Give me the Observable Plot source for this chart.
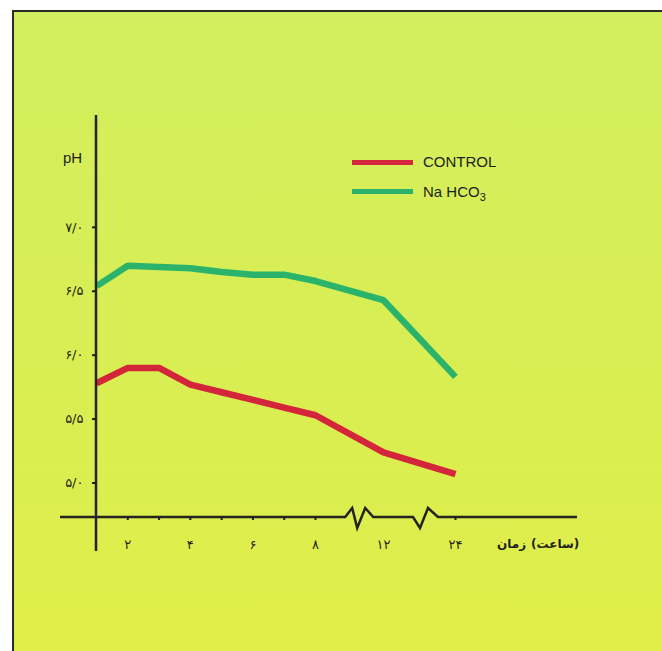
<!DOCTYPE html>
<html>
<head>
<meta charset="utf-8">
<script src="https://cdn.jsdelivr.net/npm/d3@7"></script>
<script src="https://cdn.jsdelivr.net/npm/@observablehq/plot@0.6"></script>
<style>
  html, body { margin: 0; padding: 0; background: #ffffff; }
  #page { position: relative; width: 662px; height: 651px; overflow: hidden; background: #ffffff; }
  #panel { position: absolute; left: 12px; top: 10px; right: -6px; bottom: -6px;
    border-left: 2.5px solid #2b2b26; border-top: 2.5px solid #2b2b26;
    background: linear-gradient(180deg, #d3ee5e 0%, #d8ee54 50%, #e0ee49 100%); }
  #chart { position: absolute; left: 0; top: 0; }
  .legend-line { position: absolute; left: 352px; width: 61px; height: 5px; }
  .legend-text { position: absolute; left: 423px; font: 15px "Liberation Sans", Arial, sans-serif;
    color: #1d1d1b; line-height: 15px; white-space: nowrap; }
  .legend-text sub { font-size: 11px; vertical-align: -4px; line-height: 0; }
  #xlabel { position: absolute; left: 497px; top: 537px; display: flex; flex-direction: row;
    gap: 5px; direction: ltr; font: bold 12px "DejaVu Sans", sans-serif; color: #1d1d1b; white-space: nowrap; }
  #xlabel span { display: block; direction: rtl; }
</style>
</head>
<body>
<div id="page">
  <div id="panel"></div>
  <div id="chart"></div>
  <div class="legend-line" id="leg0" style="top:159.5px"></div>
  <div class="legend-text" id="legt0" style="top:154px"></div>
  <div class="legend-line" id="leg1" style="top:188.5px"></div>
  <div class="legend-text" id="legt1" style="top:184px"></div>
  <div id="xlabel"></div>
</div>
<script>
// ---- data ----
const hours = [1, 2, 3, 4, 5, 6, 7, 8, 12, 24];
const controlPH = [5.78, 5.90, 5.90, 5.77, 5.71, 5.65, 5.59, 5.53, 5.24, 5.07];
const nahco3PH  = [6.54, 6.70, 6.69, 6.68, 6.65, 6.63, 6.63, 6.58, 6.43, 5.83];
const seriesNames = ["CONTROL", "Na HCO3"];
const seriesColors = ["#d4263b", "#2bb36c"];
const yTicks = [5.0, 5.5, 6.0, 6.5, 7.0];
const yTickLabels = ["۵/۰", "۵/۵", "۶/۰", "۶/۵", "۷/۰"];
const xTicks = [2, 4, 6, 8, 12, 24];
const xTickLabels = ["۲", "۴", "۶", "۸", "۱۲", "۲۴"];
const xMinorTicks = [2, 3, 4, 5, 6, 7, 8, 24];
const axisBreaks = [10.6, 19];
const yLabel = "pH";
const xLabelParts = ["زمان", "(ساعت)"];

const table = hours.flatMap((h, i) => [
  {hour: h, pH: controlPH[i], series: seriesNames[0]},
  {hour: h, pH: nahco3PH[i], series: seriesNames[1]}
]);

// axis lines (vertical pH axis and broken time axis)
function axisLines(index, scales, values, dims) {
  const x = scales.x;
  const yb = dims.height - dims.marginBottom;
  const xa = x(hours[0]);
  const g = d3.create("svg:g")
    .attr("fill", "none").attr("stroke", "#23231f")
    .attr("stroke-width", 2.5).attr("stroke-linejoin", "miter");
  g.append("line").attr("x1", xa).attr("x2", xa)
    .attr("y1", dims.marginTop).attr("y2", yb + 34);
  const c1 = x(axisBreaks[0]), c2 = x(axisBreaks[1]);
  const pts = [
    [xa - 36, yb],
    [c1 - 14, yb], [c1 - 7, yb - 9], [c1 - 2, yb + 11], [c1 + 6, yb - 9], [c1 + 14, yb],
    [c2 - 12, yb], [c2 - 5, yb + 11], [c2 + 3, yb - 9], [c2 + 13, yb],
    [x(hours[hours.length - 1]) + 122, yb]
  ];
  g.append("path").attr("d", d3.line()(pts));
  return g.node();
}

const chart = Plot.plot({
  width: 662,
  height: 651,
  marginLeft: 96,
  marginRight: 207,
  marginTop: 115,
  marginBottom: 134,
  style: {background: "transparent", overflow: "visible", fontFamily: "DejaVu Sans, sans-serif", fontSize: "13px", color: "#1f1f1b"},
  x: {type: "linear", domain: [1, 8, 12, 24], range: [96, 315, 383, 455], axis: null},
  y: {domain: [4.73, 7.875], axis: null},
  color: {domain: seriesNames, range: seriesColors},
  marks: [
    Plot.line(table, {x: "hour", y: "pH", z: "series", stroke: "series",
      strokeWidth: 6.5, strokeLinejoin: "miter", strokeLinecap: "butt"}),
    axisLines,
    Plot.axisY(yTicks, {anchor: "left", tickSize: 4, tickPadding: 9, strokeWidth: 2,
      tickFormat: d => yTickLabels[yTicks.indexOf(d)], fontSize: 13, label: null}),
    Plot.axisX(xMinorTicks, {anchor: "bottom", tickSize: 3, strokeWidth: 2,
      tickFormat: () => "", label: null}),
    Plot.axisX(xTicks, {anchor: "bottom", tickSize: 0, tickPadding: 22,
      tickFormat: d => xTickLabels[xTicks.indexOf(d)], fontSize: 13, label: null}),
    Plot.text([yLabel], {frameAnchor: "top-left", textAnchor: "middle", dx: -24, dy: 37, fontSize: 15,
      fontFamily: "Liberation Sans, Arial, sans-serif"})
  ]
});
document.getElementById("chart").appendChild(chart);

// legend
seriesNames.forEach((name, i) => {
  document.getElementById("leg" + i).style.background = seriesColors[i];
  const t = document.getElementById("legt" + i);
  const m = name.match(/^(.*?)(\d+)$/);
  if (m) { t.textContent = m[1]; const s = document.createElement("sub"); s.textContent = m[2]; t.appendChild(s); }
  else t.textContent = name;
});
// x axis label: first word on the left, bracketed unit on the right, as in the reference
const xl = document.getElementById("xlabel");
xLabelParts.forEach(p => {
  const s = document.createElement("span"); s.textContent = p; xl.appendChild(s);
});
</script>
</body>
</html>
